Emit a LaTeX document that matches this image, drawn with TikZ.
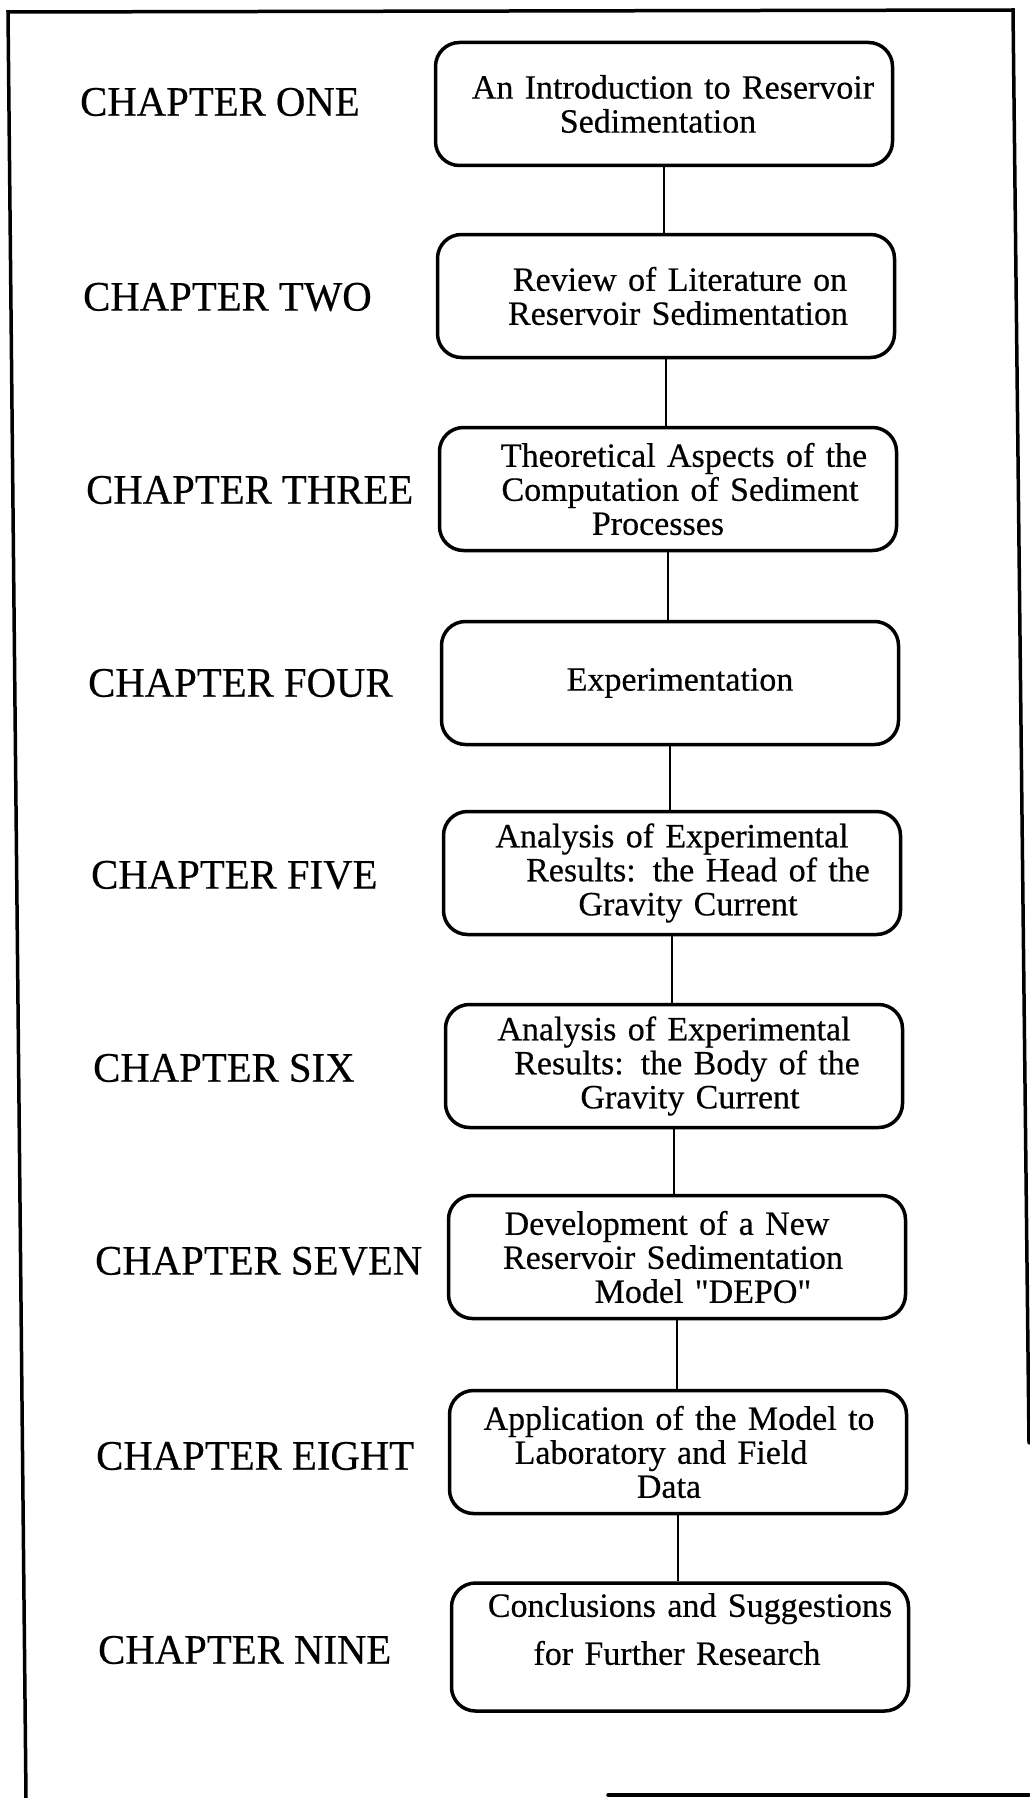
\documentclass[tikz,border=0pt]{standalone}
\usepackage{fontspec}
\setmainfont{Liberation Serif}
\newfontfamily\boxfont[FakeBold=0.4]{Liberation Serif}
\newfontfamily\chapfont[FakeStretch=0.97,FakeBold=0.4]{Liberation Serif}
\newcommand{\sh}[1]{\hspace*{#1pt}\hspace*{#1pt}}
\tikzset{
  chapbox/.style={draw, line width=3.5pt, rounded corners=24pt,
    minimum width=457pt, minimum height=123pt, inner xsep=0pt,
    text width=457pt, align=center,
    font=\boxfont\fontsize{34}{34}\selectfont},
  chaplabel/.style={anchor=west, inner sep=0pt,
    font=\chapfont\fontsize{42}{48}\selectfont},
  link/.style={line width=1.5pt},
  frame/.style={line width=3.5pt, line cap=round}
}
\begin{document}
\begin{tikzpicture}[x=1pt,y=-1pt]
\useasboundingbox (0,0) rectangle (1029,1798);
% frame (scanned, slightly skewed)
\draw[frame] (1029,1443) -- (1013,10) -- (8,12) -- (26,1798);
\draw[frame] (608,1795) -- (1029,1795);

% chapter labels
\node[chaplabel] (l1) at (80,102) {CHAPTER ONE};
\node[chaplabel] (l2) at (83,297) {CHAPTER TWO};
\node[chaplabel] (l3) at (86,490) {CHAPTER THREE};
\node[chaplabel] (l4) at (88,683) {CHAPTER FOUR};
\node[chaplabel] (l5) at (91,875) {CHAPTER FIVE};
\node[chaplabel] (l6) at (93,1068) {CHAPTER SIX};
\node[chaplabel] (l7) at (95,1261) {CHAPTER SEVEN};
\node[chaplabel] (l8) at (96,1456) {CHAPTER EIGHT};
\node[chaplabel] (l9) at (98,1650) {CHAPTER NINE};

% boxes
\node[chapbox] (b1) at (664,104) {\sh{9}An Introduction to Reservoir\\\sh{-6}Sedimentation};
\node[chapbox] (b2) at (666,296) {\sh{14}Review of Literature on\\\sh{12}Reservoir Sedimentation};
\node[chapbox] (b3) at (668,489) {\sh{16}Theoretical Aspects of the\\\sh{12}Computation of Sediment\\\sh{-10}Processes};
\node[chapbox] (b4) at (670,683) {\sh{10}Experimentation};
\node[chapbox] (b5) at (672,873) {\sh{0}Analysis of Experimental\\\sh{26}Results: the Head of the\\\sh{16}Gravity Current};
\node[chapbox] (b6) at (674,1066) {\sh{0}Analysis of Experimental\\\sh{13}Results: the Body of the\\\sh{16}Gravity Current};
\node[chapbox] (b7) at (677,1257) {\sh{-10}Development of a New\\\sh{-4}Reservoir Sedimentation\\\sh{26}Model "DEPO"};
\node[chapbox] (b8) at (678,1452) {\sh{1}Application of the Model to\\\sh{-17}Laboratory and Field\\\sh{-9}Data};
\node[chapbox, minimum height=128pt, text depth=84pt] (b9) at (680,1647) {\sh{10}Conclusions and Suggestions\\[14pt]\sh{-3}for Further Research};

% connectors
\foreach \a/\b in {b1/b2,b2/b3,b3/b4,b4/b5,b5/b6,b6/b7,b7/b8,b8/b9}
  \draw[link] (\a.south) -- (\a.south |- \b.north);
\end{tikzpicture}
\end{document}
